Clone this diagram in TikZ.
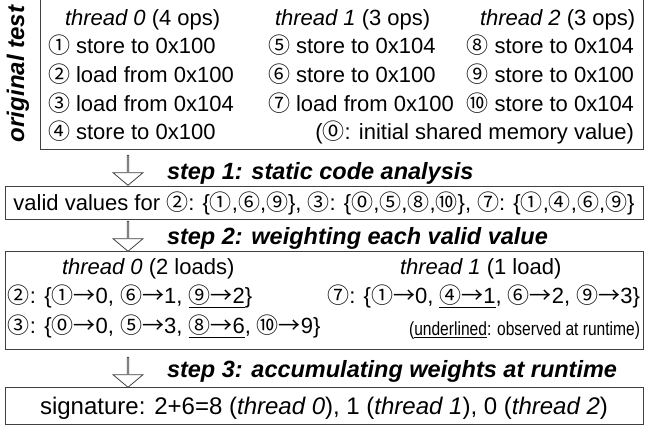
\documentclass[tikz,border=0pt]{standalone}
\usepackage{fontspec}
\setmainfont{Liberation Sans}
\newfontfamily\circfont{Noto Sans CJK JP}
\usetikzlibrary{shapes.arrows}
\newcommand{\ci}[1]{{\circfont #1}}
\newcommand{\ar}{{\circfont →}}
\newcommand{\fs}{\fontsize{22}{26}\selectfont}
\newcommand{\ul}[1]{\underline{#1}}
\begin{document}
\begin{tikzpicture}[x=1pt,y=-1pt,
  every node/.style={inner sep=0pt, outer sep=0pt},
  txt/.style={anchor=base west, font=\fs},
  hdr/.style={anchor=base west, font=\fs},
  steplbl/.style={anchor=base west, font=\fontsize{23.5}{27}\selectfont\bfseries\itshape},
  boxx/.style={draw=black!75, line width=1pt},
  harrow/.style={single arrow, draw=black!75, line width=0.8pt, fill=white,
    rotate=-90, minimum height=30pt, minimum width=30pt,
    single arrow head extend=8.5pt, single arrow tip angle=100, anchor=center}]
\useasboundingbox (0,0) rectangle (662,430);
% boxes
\draw[boxx] (40,-3) rectangle (643,150);
\node[boxx, anchor=north west, minimum width=638pt, minimum height=33pt] (valid) at (5,187) {};
\node[boxx, anchor=north west, minimum width=638pt, minimum height=98pt] (weight) at (5,252) {};
\node[boxx, anchor=north west, minimum width=638pt, minimum height=37pt] (sig) at (5,388) {};
% original test
\node[rotate=90, font=\fontsize{24}{28}\selectfont\bfseries\itshape, anchor=center] (orig) at (18,74) {original test};
% headers
\node[hdr] (h0) at (65,26) {\textit{thread 0} (4 ops)};
\node[hdr] (h1) at (275,26) {\textit{thread 1} (3 ops)};
\node[hdr] (h2) at (480,26) {\textit{thread 2} (3 ops)};
% thread 0
\node[txt] (o1) at (48,54) {\ci{①} store to 0x100};
\node[txt] (o2) at (48,83) {\ci{②} load from 0x100};
\node[txt] (o3) at (48,112) {\ci{③} load from 0x104};
\node[txt] (o4) at (48,140) {\ci{④} store to 0x100};
% thread 1
\node[txt] (o5) at (268,54) {\ci{⑤} store to 0x104};
\node[txt] (o6) at (268,83) {\ci{⑥} store to 0x100};
\node[txt] (o7) at (268,112) {\ci{⑦} load from 0x100};
% thread 2
\node[txt, anchor=base east] (o8) at (634,54) {\ci{⑧} store to 0x104};
\node[txt, anchor=base east] (o9) at (634,83) {\ci{⑨} store to 0x100};
\node[txt, anchor=base east] (o10) at (634,112) {\ci{⑩} store to 0x104};
\node[txt, anchor=base east] (init) at (634,140) {(\ci{⓪}: initial shared memory value)};
% step 1
\node[harrow] (a1) at (128,170) {};
\node[steplbl] (s1) at (167,180) {step 1: static code analysis};
\node[txt, anchor=base] (vv) at (324,211) {valid values for \ci{②}: \{\ci{①},\ci{⑥},\ci{⑨}\}, \ci{③}: \{\ci{⓪},\ci{⑤},\ci{⑧},\ci{⑩}\}, \ci{⑦}: \{\ci{①},\ci{④},\ci{⑥},\ci{⑨}\}};
% step 2
\node[harrow] (a2) at (128,236) {};
\node[steplbl] (s2) at (167,245) {step 2: weighting each valid value};
\node[hdr] (w0) at (62,275) {\textit{thread 0} (2 loads)};
\node[hdr] (w1) at (400,275) {\textit{thread 1} (1 load)};
\node[txt] (r2) at (8,304) {\ci{②}: \{\ci{①}\ar0, \ci{⑥}\ar1, \ul{\ci{⑨}\ar2}\}};
\node[txt, anchor=base east] (r7) at (640,304) {\ci{⑦}: \{\ci{①}\ar0, \ul{\ci{④}\ar1}, \ci{⑥}\ar2, \ci{⑨}\ar3\}};
\node[txt] (r3) at (8,334) {\ci{③}: \{\ci{⓪}\ar0, \ci{⑤}\ar3, \ul{\ci{⑧}\ar6}, \ci{⑩}\ar9\}};
\node[anchor=base east, font=\fontsize{19}{22}\selectfont, xscale=0.82] (note) at (640,336) {(\underline{underlined}: observed at runtime)};
% step 3
\node[harrow] (a3) at (128,372) {};
\node[steplbl] (s3) at (167,378) {step 3: accumulating weights at runtime};
\node[anchor=base, font=\fontsize{24}{28}\selectfont] (sg) at (324,415) {signature: 2+6=8 (\textit{thread 0}), 1 (\textit{thread 1}), 0 (\textit{thread 2})};
\end{tikzpicture}
\end{document}
